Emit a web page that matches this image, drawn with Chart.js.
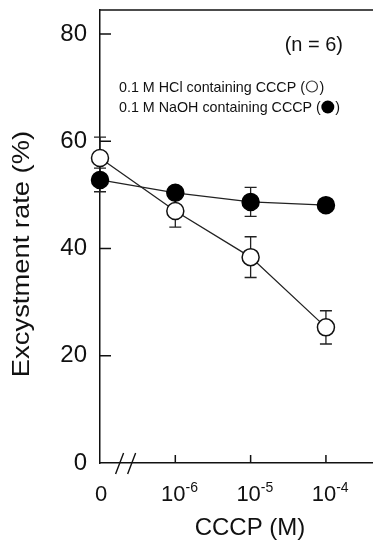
<!DOCTYPE html>
<html>
<head>
<meta charset="utf-8">
<script src="https://cdn.jsdelivr.net/npm/chart.js@4.4.1/dist/chart.umd.min.js"></script>
<style>
  html, body { margin: 0; padding: 0; background: #fff; }
  #wrap { width: 373px; height: 543px; position: relative; }
</style>
</head>
<body>
<div id="wrap"><canvas id="c"></canvas></div>
<script>
// values; x positions are evenly spaced categories (0, 1e-6, 1e-5, 1e-4 M)
const xPos = [0, 1, 2, 3];
const tickBase = ['0', '10', '10', '10'];
const tickExp = ['', '-6', '-5', '-4'];
const yTicks = [0, 20, 40, 60, 80];

const hclMean = [56.9, 47.0, 38.4, 25.3];
const hclErr = [3.9, 3.0, 3.8, 3.1];
const naohMean = [52.8, 50.4, 48.7, 48.1];
const naohErr = [2.2, 1.0, 2.7, 1.0];

const FONT = '"Liberation Sans", Arial, Helvetica, sans-serif';
const INK = '#111';

const pts = (ys) => xPos.map((x, i) => ({ x, y: ys[i] }));

const errs = [hclErr, naohErr];

const decor = {
  id: 'decor',
  beforeDatasetsDraw(chart){
    const ctx = chart.ctx, xs = chart.scales.x, ys = chart.scales.y;
    ctx.save();
    ctx.strokeStyle = '#222';
    ctx.lineWidth = 1.3;
    chart.data.datasets.forEach((ds, di) => {
      ds.data.forEach((p, i) => {
        const e = errs[di][i];
        const px = xs.getPixelForValue(p.x);
        const yTop = ys.getPixelForValue(p.y + e), yBot = ys.getPixelForValue(p.y - e);
        ctx.beginPath();
        ctx.moveTo(px, yTop); ctx.lineTo(px, yBot);
        ctx.moveTo(px - 6, yTop); ctx.lineTo(px + 6, yTop);
        ctx.moveTo(px - 6, yBot); ctx.lineTo(px + 6, yBot);
        ctx.stroke();
      });
    });
    ctx.restore();
  },
  afterDraw(chart){
    const ctx = chart.ctx, xs = chart.scales.x, ys = chart.scales.y;
    const a = chart.chartArea;
    ctx.save();
    ctx.strokeStyle = INK;
    ctx.lineWidth = 1.5;
    // top frame line
    ctx.beginPath(); ctx.moveTo(a.left, a.top); ctx.lineTo(a.right, a.top); ctx.stroke();
    // inward ticks
    ctx.beginPath();
    yTicks.filter(v => v > 0).forEach(v => {
      const py = ys.getPixelForValue(v);
      ctx.moveTo(a.left, py); ctx.lineTo(a.left + 11, py);
    });
    xPos.filter(v => v > 0).forEach(v => {
      const px = xs.getPixelForValue(v);
      ctx.moveTo(px, a.bottom); ctx.lineTo(px, a.bottom - 8);
    });
    ctx.stroke();
    // axis break //
    ctx.lineWidth = 1.4;
    ctx.beginPath();
    [0.26, 0.42].forEach(v => {
      const px = xs.getPixelForValue(v);
      ctx.moveTo(px - 4, a.bottom + 11); ctx.lineTo(px + 4, a.bottom - 10);
    });
    ctx.stroke();

    ctx.fillStyle = INK;
    // x tick labels with exponents
    ctx.textBaseline = 'alphabetic';
    xPos.forEach((v, i) => {
      const px = xs.getPixelForValue(v);
      ctx.font = '22px ' + FONT;
      const w = ctx.measureText(tickBase[i]).width;
      const bx = tickExp[i] ? px - 2 : px + 1;
      ctx.textAlign = 'center';
      ctx.fillText(tickBase[i], bx, a.bottom + 38);
      if (tickExp[i]) {
        ctx.font = '14px ' + FONT;
        ctx.textAlign = 'left';
        ctx.fillText(tickExp[i], bx + w / 2, a.bottom + 29);
      }
    });
    // x title
    ctx.font = '24px ' + FONT;
    ctx.textAlign = 'center';
    ctx.fillText('CCCP (M)', 250, 535);
    // y title, slightly stretched like the original
    ctx.save();
    ctx.translate(29, 254);
    ctx.rotate(-Math.PI / 2);
    ctx.scale(1.14, 1);
    ctx.font = '24px ' + FONT;
    ctx.textAlign = 'center';
    ctx.fillText('Excystment rate (%)', 0, 0);
    ctx.restore();
    // n label
    ctx.font = '20px ' + FONT;
    ctx.textAlign = 'right';
    ctx.fillText('(n = 6)', 343, 51);
    // legend text with symbols
    ctx.font = '14.3px ' + FONT;
    ctx.textAlign = 'left';
    const rows = [
      { t: '0.1 M HCl containing CCCP (', y: 91.5, fill: false },
      { t: '0.1 M NaOH containing CCCP (', y: 112, fill: true }
    ];
    rows.forEach(r => {
      const w = ctx.measureText(r.t).width;
      ctx.fillText(r.t, 119, r.y);
      const cx = 119 + w + 7, cy = r.y - 5;
      ctx.beginPath();
      ctx.arc(cx, cy, r.fill ? 6.5 : 5.5, 0, Math.PI * 2);
      if (r.fill) { ctx.fillStyle = '#000'; ctx.fill(); }
      else { ctx.lineWidth = 1.2; ctx.strokeStyle = '#333'; ctx.stroke(); }
      ctx.fillStyle = INK;
      ctx.fillText(')', cx + 7.5, r.y);
    });
    ctx.restore();
  }
};

new Chart(document.getElementById('c'), {
  type: 'line',
  data: {
    datasets: [
      { label: 'HCl', data: pts(hclMean), order: 1, clip: false,
        borderColor: '#222', borderWidth: 1.3,
        pointBackgroundColor: '#fff', pointBorderColor: '#111', pointBorderWidth: 1.5, pointRadius: 8.5 },
      { label: 'NaOH', data: pts(naohMean), order: 0, clip: false,
        borderColor: '#222', borderWidth: 1.3,
        pointBackgroundColor: '#000', pointBorderColor: '#000', pointBorderWidth: 1.5, pointRadius: 8.5 }
    ]
  },
  options: {
    responsive: true,
    maintainAspectRatio: false,
    animation: false,
    layout: { autoPadding: false, padding: { top: 10, right: 0, left: 0, bottom: 0 } },
    plugins: { legend: { display: false }, tooltip: { enabled: false } },
    scales: {
      x: {
        type: 'linear', min: 0, max: 3.625,
        grid: { display: false },
        border: { display: true, color: INK, width: 1.5 },
        ticks: { display: false },
        afterFit(s){ s.height = 80; s.paddingLeft = 0; s.paddingRight = 0; }
      },
      y: {
        min: 0, max: 84.5,
        grid: { display: false, drawTicks: false },
        border: { display: true, color: INK, width: 1.5 },
        afterBuildTicks(s){ s.ticks = yTicks.map(v => ({ value: v })); },
        ticks: { padding: 13, color: INK, font: { family: FONT, size: 24 } },
        afterFit(s){ s.width = 100; s.paddingTop = 0; s.paddingBottom = 0; }
      }
    }
  },
  plugins: [decor]
});
</script>
</body>
</html>
